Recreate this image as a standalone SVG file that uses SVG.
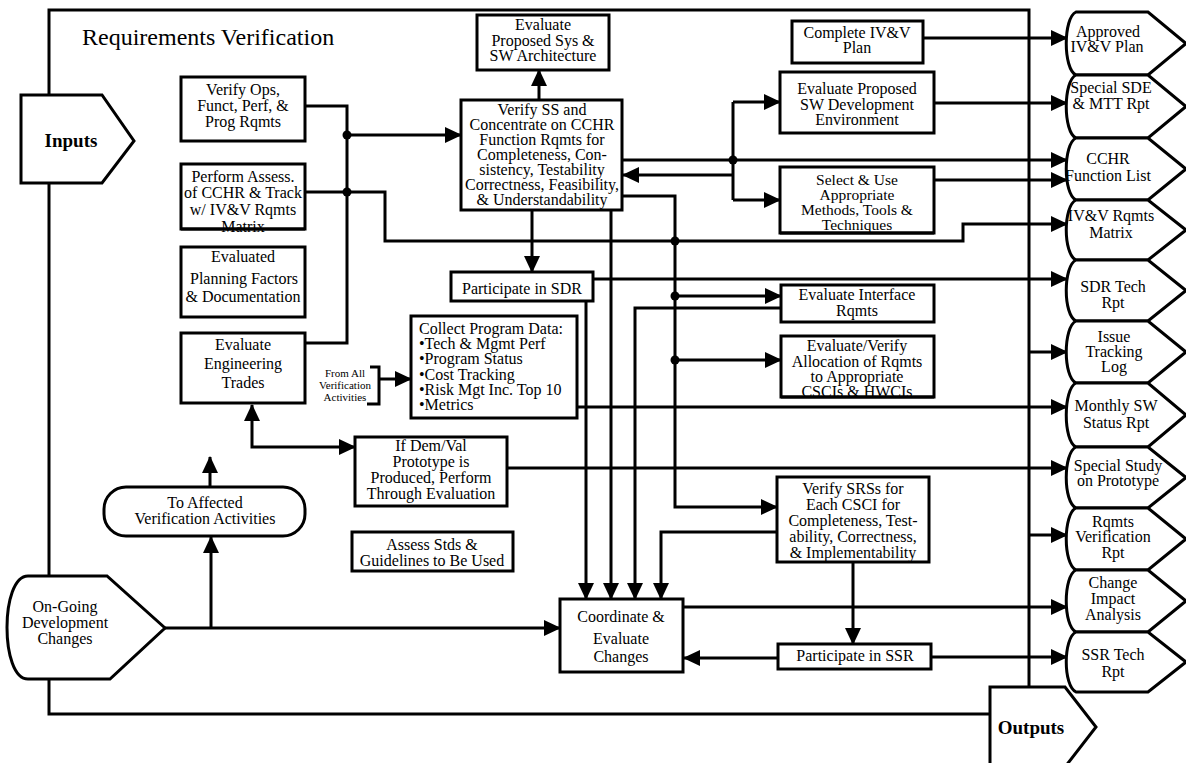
<svg xmlns="http://www.w3.org/2000/svg" width="1186" height="763" viewBox="0 0 1186 763">
<style>
.b{fill:#fff;stroke:#000;stroke-width:3}
.t{font-family:"Liberation Serif","Times New Roman",serif;font-size:16px;text-anchor:middle;fill:#000}
.l{text-anchor:start}
.c{fill:none;stroke:#000;stroke-width:3}
.a{marker-end:url(#ah)}
.d{fill:#000}
.bold{font-weight:bold;font-size:19px}
.s{font-size:11px}
</style>
<defs>
<marker id="ah" markerUnits="userSpaceOnUse" markerWidth="18" markerHeight="16" refX="16" refY="8" orient="auto-start-reverse"><path d="M0,0 L17,8 L0,16 Z" fill="#000"/></marker>
</defs>
<rect width="1186" height="763" fill="#fff"/>

<g id="frame">
<path class="c" d="M49,95 L49,10 L1029,10 L1029,687"/>
<path class="c" d="M49,183 L49,576"/>
<path class="c" d="M49,679 L49,714 L990,714"/>
<text class="t l" x="82" y="45" style="font-size:24px">Requirements Verification</text>
</g>

<g id="connectors">
<path class="c" d="M305,106 L347,106 L347,343 L305,343"/>
<path class="c a" d="M347,135 L461,135"/>
<path class="c a" d="M305,192 L385,192 L385,241 L963,241 L963,224 L1067,224"/>
<path class="c a" d="M539,100 L539,70"/>
<path class="c a" d="M532,210 L532,272"/>
<path class="c a" d="M611,210 L611,599"/>
<path class="c a" d="M586,301 L586,599"/>
<path class="c a" d="M781,308 L635,308 L635,599"/>
<path class="c a" d="M777,532 L661,532 L661,599"/>
<path class="c a" d="M622,196 L675,196 L675,507 L777,507"/>
<path class="c a" d="M675,296 L781,296"/>
<path class="c a" d="M675,360 L781,360"/>
<path class="c a" d="M622,160 L1067,160"/>
<path class="c" d="M733,102 L733,200"/>
<path class="c a" d="M733,102 L780,102"/>
<path class="c a" d="M733,200 L780,200"/>
<path class="c a" d="M733,175 L623,175"/>
<path class="c a" d="M923,38 L1067,38"/>
<path class="c a" d="M934,103 L1067,103"/>
<path class="c a" d="M934,180 L1067,180"/>
<path class="c a" d="M593,279 L1067,279"/>
<path class="c a" d="M1029,352 L1067,352"/>
<path class="c a" d="M577,407 L1067,407"/>
<path class="c a" d="M507,468 L1067,468"/>
<path class="c a" d="M1029,535 L1067,535"/>
<path class="c a" d="M683,607 L1067,607"/>
<path class="c a" d="M931,657 L1067,657"/>
<path class="c a" d="M778,658 L684,658"/>
<path class="c a" d="M853,562 L853,644"/>
<path class="c" d="M370,367 L379,367 L379,404 L367,404"/>
<path class="c a" d="M379,379 L411,379"/>
<path class="c a" d="M252,405 L252,447 L355,447" style="marker-start:url(#ah)"/>
<path class="c a" d="M210,487 L210,457"/>
<path class="c a" d="M165,628 L560,628"/>
<path class="c a" d="M211,628 L211,537"/>
<circle class="d" cx="347" cy="135" r="4.5"/>
<circle class="d" cx="347" cy="192" r="4.5"/>
<circle class="d" cx="675" cy="241" r="4.5"/>
<circle class="d" cx="675" cy="296" r="4.5"/>
<circle class="d" cx="675" cy="360" r="4.5"/>
<circle class="d" cx="733" cy="160" r="4.5"/>
<text class="t s" x="345" y="377">From All</text>
<text class="t s" x="345" y="389">Verification</text>
<text class="t s" x="345" y="401">Activities</text>
</g>

<g id="inputs">
<path class="b" d="M21,95 L102,95 L134,141 L102,183 L21,183 Z"/>
<text class="t bold" x="71" y="147">Inputs</text>
</g>
<g id="outputs">
<path class="b" d="M990,767 L990,687 L1065,687 L1096,727 L1065,767"/>
<text class="t bold" x="1031" y="734">Outputs</text>
</g>

<g id="verify-ops">
<rect class="b" x="181" y="77" width="124" height="64"/>
<text class="t" x="243" y="95">Verify Ops,</text>
<text class="t" x="243" y="111">Funct, Perf, &amp;</text>
<text class="t" x="243" y="127">Prog Rqmts</text>
</g>
<g id="perform-assess">
<rect class="b" x="181" y="164" width="124" height="65"/>
<text class="t" x="243" y="182">Perform Assess.</text>
<text class="t" x="243" y="198">of CCHR &amp; Track</text>
<text class="t" x="243" y="215">w/ IV&amp;V Rqmts</text>
<text class="t" x="243" y="232">Matrix</text>
<line x1="181" y1="229" x2="305" y2="229" stroke="#000" stroke-width="3"/>
</g>
<g id="evaluated-planning">
<rect class="b" x="181" y="247" width="124" height="70"/>
<text class="t" x="243" y="262">Evaluated</text>
<text class="t" x="244" y="284">Planning Factors</text>
<text class="t" x="243" y="302">&amp; Documentation</text>
</g>
<g id="eval-eng-trades">
<rect class="b" x="181" y="333" width="124" height="70"/>
<text class="t" x="243" y="350">Evaluate</text>
<text class="t" x="243" y="369">Engineering</text>
<text class="t" x="243" y="388">Trades</text>
</g>
<g id="eval-sys-arch">
<rect class="b" x="477" y="15" width="132" height="55"/>
<text class="t" x="543" y="30">Evaluate</text>
<text class="t" x="543" y="46">Proposed Sys &amp;</text>
<text class="t" x="543" y="61">SW Architecture</text>
</g>
<g id="verify-ss">
<rect class="b" x="461" y="100" width="161" height="110"/>
<text class="t" x="542" y="115">Verify SS and</text>
<text class="t" x="542" y="130">Concentrate on CCHR</text>
<text class="t" x="542" y="145">Function Rqmts for</text>
<text class="t" x="542" y="160">Completeness, Con-</text>
<text class="t" x="542" y="175">sistency, Testability</text>
<text class="t" x="542" y="190">Correctness, Feasibility,</text>
<text class="t" x="542" y="205">&amp; Understandability</text>
</g>
<g id="participate-sdr">
<rect class="b" x="451" y="272" width="142" height="29"/>
<text class="t" x="522" y="294">Participate in SDR</text>
</g>
<g id="collect-data">
<rect class="b" x="411" y="316" width="166" height="102"/>
<text class="t l" x="419" y="334">Collect Program Data:</text>
<text class="t l" x="419" y="349">•Tech &amp; Mgmt Perf</text>
<text class="t l" x="419" y="364">•Program Status</text>
<text class="t l" x="419" y="380">•Cost Tracking</text>
<text class="t l" x="419" y="395">•Risk Mgt Inc. Top 10</text>
<text class="t l" x="419" y="410">•Metrics</text>
</g>
<g id="dem-val">
<rect class="b" x="355" y="437" width="152" height="69"/>
<text class="t" x="431" y="451">If Dem/Val</text>
<text class="t" x="431" y="467">Prototype is</text>
<text class="t" x="431" y="483">Produced, Perform</text>
<text class="t" x="431" y="499">Through Evaluation</text>
</g>
<g id="to-affected">
<rect class="b" x="104" y="487" width="201" height="49" rx="22" ry="22"/>
<text class="t" x="205" y="508">To Affected</text>
<text class="t" x="205" y="524">Verification Activities</text>
</g>
<g id="assess-stds">
<rect class="b" x="352" y="532" width="161" height="39"/>
<text class="t" x="432" y="550">Assess Stds &amp;</text>
<text class="t" x="432" y="566">Guidelines to Be Used</text>
</g>
<g id="ongoing">
<path class="b" d="M28,576 L107,576 L165,628 L110,679 L28,679 C0,679 0,576 28,576 Z"/>
<text class="t" x="65" y="612">On-Going</text>
<text class="t" x="65" y="628">Development</text>
<text class="t" x="65" y="644">Changes</text>
</g>
<g id="coordinate">
<rect class="b" x="560" y="599" width="123" height="73"/>
<text class="t" x="621" y="622">Coordinate &amp;</text>
<text class="t" x="621" y="644">Evaluate</text>
<text class="t" x="621" y="662">Changes</text>
</g>
<g id="complete-plan">
<rect class="b" x="792" y="21" width="131" height="42"/>
<text class="t" x="857" y="38">Complete IV&amp;V</text>
<text class="t" x="857" y="53">Plan</text>
</g>
<g id="eval-sde">
<rect class="b" x="780" y="72" width="154" height="61"/>
<text class="t" x="857" y="94">Evaluate Proposed</text>
<text class="t" x="857" y="110">SW Development</text>
<text class="t" x="857" y="125">Environment</text>
</g>
<g id="select-use">
<rect class="b" x="780" y="167" width="154" height="66"/>
<text class="t" x="857" y="185" style="font-size:15.5px">Select &amp; Use</text>
<text class="t" x="857" y="200" style="font-size:15.5px">Appropriate</text>
<text class="t" x="857" y="215" style="font-size:15.5px">Methods, Tools &amp;</text>
<text class="t" x="857" y="230" style="font-size:15.5px">Techniques</text>
<line x1="780" y1="233" x2="934" y2="233" stroke="#000" stroke-width="3"/>
</g>
<g id="eval-interface">
<rect class="b" x="781" y="285" width="153" height="37"/>
<text class="t" x="857" y="300">Evaluate Interface</text>
<text class="t" x="857" y="316">Rqmts</text>
</g>
<g id="eval-allocation">
<rect class="b" x="781" y="336" width="153" height="61"/>
<text class="t" x="857" y="351">Evaluate/Verify</text>
<text class="t" x="857" y="367">Allocation of Rqmts</text>
<text class="t" x="857" y="382">to Appropriate</text>
<text class="t" x="857" y="397">CSCIs &amp; HWCIs</text>
<line x1="781" y1="397" x2="934" y2="397" stroke="#000" stroke-width="3"/>
</g>
<g id="verify-srs">
<rect class="b" x="777" y="477" width="152" height="85"/>
<text class="t" x="853" y="494">Verify SRSs for</text>
<text class="t" x="853" y="510">Each CSCI for</text>
<text class="t" x="853" y="526">Completeness, Test-</text>
<text class="t" x="853" y="542">ability, Correctness,</text>
<text class="t" x="853" y="558">&amp; Implementability</text>
</g>
<g id="participate-ssr">
<rect class="b" x="778" y="644" width="153" height="25"/>
<text class="t" x="855" y="661">Participate in SSR</text>
</g>

<g id="out-approved">
<path class="b" d="M1076,12 L1148,12 L1186,43.5 L1148,75 L1076,75 C1063,69 1063,18 1076,12 Z"/>
<text class="t" x="1108" y="37">Approved</text>
<text class="t" x="1107" y="52">IV&amp;V Plan</text>
</g>
<g id="out-sde">
<path class="b" d="M1076,75 L1148,75 L1186,106.5 L1148,138 L1076,138 C1063,132 1063,81 1076,75 Z"/>
<text class="t" x="1111" y="93">Special SDE</text>
<text class="t" x="1111" y="109">&amp; MTT Rpt</text>
</g>
<g id="out-cchr">
<path class="b" d="M1076,138 L1148,138 L1186,169 L1148,200 L1076,200 C1063,194 1063,144 1076,138 Z"/>
<text class="t" x="1108" y="164">CCHR</text>
<text class="t" x="1108" y="181">Function List</text>
</g>
<g id="out-ivv-matrix">
<path class="b" d="M1076,200 L1148,200 L1186,230 L1148,260 L1076,260 C1063,254 1063,206 1076,200 Z"/>
<text class="t" x="1111" y="221">IV&amp;V Rqmts</text>
<text class="t" x="1111" y="238">Matrix</text>
</g>
<g id="out-sdr">
<path class="b" d="M1076,260 L1148,260 L1186,290.5 L1148,321 L1076,321 C1063,315 1063,266 1076,260 Z"/>
<text class="t" x="1113" y="292">SDR Tech</text>
<text class="t" x="1113" y="308">Rpt</text>
</g>
<g id="out-issue">
<path class="b" d="M1076,321 L1148,321 L1186,352 L1148,383 L1076,383 C1063,377 1063,327 1076,321 Z"/>
<text class="t" x="1114" y="342">Issue</text>
<text class="t" x="1114" y="357">Tracking</text>
<text class="t" x="1114" y="372">Log</text>
</g>
<g id="out-monthly">
<path class="b" d="M1076,383 L1148,383 L1186,415 L1148,447 L1076,447 C1063,441 1063,389 1076,383 Z"/>
<text class="t" x="1116" y="411">Monthly SW</text>
<text class="t" x="1116" y="428">Status Rpt</text>
</g>
<g id="out-study">
<path class="b" d="M1076,447 L1148,447 L1186,477.5 L1148,508 L1076,508 C1063,502 1063,453 1076,447 Z"/>
<text class="t" x="1118" y="471">Special Study</text>
<text class="t" x="1118" y="486">on Prototype</text>
</g>
<g id="out-rqmts-ver">
<path class="b" d="M1076,508 L1148,508 L1186,539 L1148,570 L1076,570 C1063,564 1063,514 1076,508 Z"/>
<text class="t" x="1113" y="527">Rqmts</text>
<text class="t" x="1113" y="542">Verification</text>
<text class="t" x="1113" y="558">Rpt</text>
</g>
<g id="out-change">
<path class="b" d="M1076,570 L1148,570 L1186,601 L1148,632 L1076,632 C1063,626 1063,576 1076,570 Z"/>
<text class="t" x="1113" y="588">Change</text>
<text class="t" x="1113" y="604">Impact</text>
<text class="t" x="1113" y="620">Analysis</text>
</g>
<g id="out-ssr">
<path class="b" d="M1076,632 L1148,632 L1186,662 L1148,692 L1076,692 C1063,686 1063,638 1076,632 Z"/>
<text class="t" x="1113" y="660">SSR Tech</text>
<text class="t" x="1113" y="677">Rpt</text>
</g>
</svg>
